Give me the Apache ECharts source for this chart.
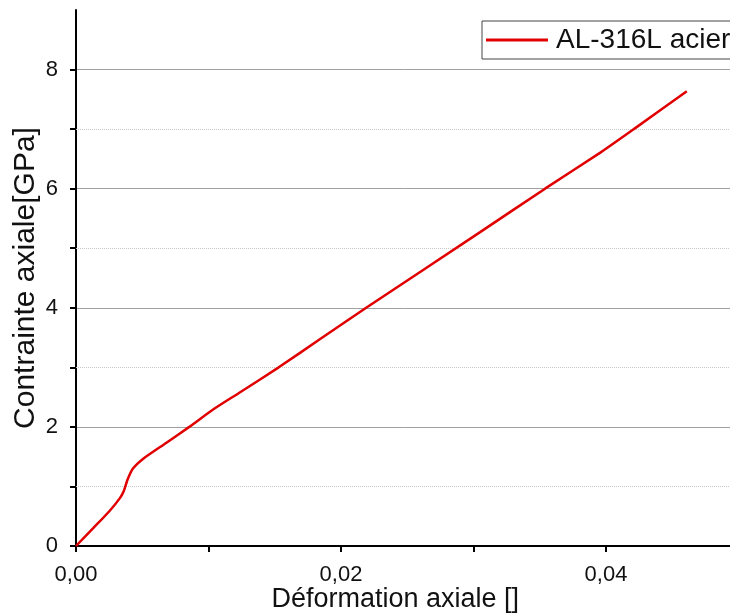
<!DOCTYPE html>
<html><head><meta charset="utf-8">
<script src="https://cdn.jsdelivr.net/npm/echarts@6/dist/echarts.min.js"></script>
<style>html,body{margin:0;padding:0;background:#fff}#c{width:730px;height:613px}</style>
</head><body><div id="c"></div>
<script>
const seriesName = 'AL-316L acier';
const strain = [0, 0.0013, 0.0025, 0.0033, 0.0036, 0.0039, 0.0043, 0.0051, 0.0068, 0.00855, 0.0104, 0.0123, 0.0153, 0.0184, 0.0219, 0.0305, 0.0354, 0.0396, 0.0421, 0.0461];
const stress = [0, 0.30, 0.58, 0.80, 0.92, 1.12, 1.30, 1.47, 1.73, 2.0, 2.30, 2.57, 3.0, 3.47, 4.0, 5.27, 6.0, 6.61, 7.0, 7.635];
const minorGridValues = [1, 3, 5, 7];
const xName = 'Déformation axiale []';
const yName = 'Contrainte axiale[GPa]';

const FONT = '"Liberation Sans", Arial, sans-serif';
const chart = echarts.init(document.getElementById('c'), null, {renderer: 'canvas'});
const points = strain.map((x, i) => [x, stress[i]]);

chart.setOption({
  animation: false,
  backgroundColor: '#fff',
  grid: {left: 76, top: 10, bottom: 67, right: -8.5, containLabel: false, outerBoundsMode: 'none'},
  legend: {
    left: 482, top: 21,
    padding: [5, 30, 5, 4],
    borderColor: '#444', borderWidth: 1, backgroundColor: '#fff',
    itemWidth: 62, itemHeight: 3,
    textStyle: {fontFamily: FONT, fontSize: 28, color: '#111', padding: [0, 0, 0, 3]},
    data: [{name: seriesName, icon: 'rect'}]
  },
  xAxis: {
    type: 'value', min: 0, max: 0.05, interval: 0.01,
    name: xName, nameLocation: 'middle', nameGap: 40, nameMoveOverlap: false,
    nameTextStyle: {fontFamily: FONT, fontSize: 27, color: '#111', padding: [0, 24, 0, 0]},
    axisLine: {lineStyle: {color: '#000', width: 2}},
    axisTick: {inside: false, length: 6, lineStyle: {color: '#000', width: 2}},
    axisLabel: {
      fontFamily: FONT, fontSize: 22, color: '#111', margin: 18, showMaxLabel: false,
      formatter: v => (Math.round(v * 100) % 2 === 0) ? v.toFixed(2).replace('.', ',') : ''
    },
    splitLine: {show: false}
  },
  yAxis: {
    type: 'value', min: 0, max: 9, interval: 1,
    name: yName, nameLocation: 'middle', nameGap: 35, nameMoveOverlap: false,
    nameTextStyle: {fontFamily: FONT, fontSize: 30, color: '#111'},
    axisLine: {show: true, lineStyle: {color: '#000', width: 2}},
    axisTick: {show: true, inside: false, length: 6, lineStyle: {color: '#000', width: 2}},
    axisLabel: {
      fontFamily: FONT, fontSize: 22, color: '#111', margin: 18, showMaxLabel: false,
      formatter: v => (v % 2 === 0) ? String(v) : ''
    },
    splitLine: {show: true, showMinLine: false, showMaxLine: false,
      lineStyle: {color: ['transparent', '#a0a0a0'], width: 1, type: 'solid'}}
  },
  series: [{
    name: seriesName, type: 'line', data: points,
    showSymbol: false, symbol: 'none', smooth: 0.2,
    lineStyle: {color: '#e00000', width: 2.5},
    itemStyle: {color: '#e00000'},
    markLine: {
      silent: true, symbol: 'none', label: {show: false},
      lineStyle: {color: '#c8c8c8', type: 'dotted', width: 1},
      data: minorGridValues.map(v => ({yAxis: v}))
    },
    z: 5
  }]
});
</script></body></html>
